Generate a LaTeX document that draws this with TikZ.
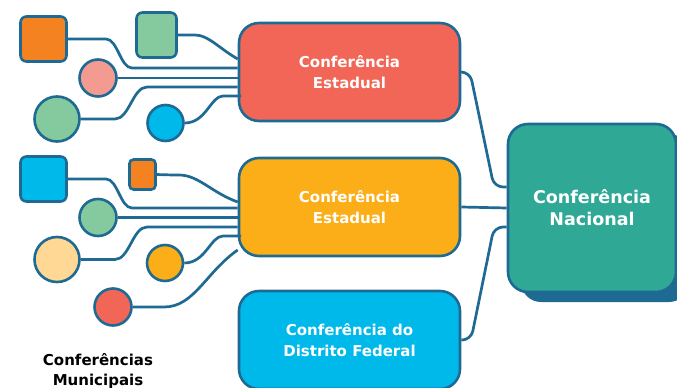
\documentclass[tikz,border=0pt]{standalone}
\usepackage{fontspec}
\setmainfont{DejaVu Sans}
\usetikzlibrary{positioning,calc,shadows}
\definecolor{lineblue}{HTML}{1F6A93}
\definecolor{confred}{HTML}{F26657}
\definecolor{confyellow}{HTML}{FBAE17}
\definecolor{confblue}{HTML}{00B9EB}
\definecolor{confgreen}{HTML}{2FA895}
\definecolor{muniorange}{HTML}{F48220}
\definecolor{munigreen}{HTML}{85C99E}
\definecolor{munipink}{HTML}{F39A91}
\definecolor{muniyellow}{HTML}{FED894}

\begin{document}
\begin{tikzpicture}[
    x=1pt, y=-1pt,
    every node/.style={
        draw=lineblue, line width=2.6pt,
        align=center, text=white
    },
    conf/.style={
        rounded corners=20pt,
        minimum width=221pt, minimum height=98pt,
        font=\bfseries\fontsize{15}{20.5}\selectfont
    },
    muni/.style={circle, inner sep=0pt, minimum size=#1},
    tile/.style={rounded corners=6pt, inner sep=0pt},
    link/.style={draw=lineblue, line width=2.7pt, rounded corners=9pt}
]
\useasboundingbox (0,0) rectangle (677,388);

\node[conf, fill=confred] (est1) at (349.5,72) {Conferência\\Estadual};
\node[conf, fill=confyellow] (est2) at (349.5,207) {Conferência\\Estadual};
\node[conf, fill=confblue] (dist) at (349.5,340) {Conferência do\\Distrito Federal};
\node[rounded corners=20pt, fill=confgreen,
    minimum width=168pt, minimum height=168pt,
    font=\bfseries\fontsize{17.5}{22}\selectfont,
    drop shadow={shadow xshift=13pt, shadow yshift=-10pt, opacity=1, fill=lineblue, draw=none}]
    (nac) at (592,208) {Conferência\\Nacional};

\node[tile, fill=muniorange, minimum width=46pt, minimum height=45pt] (m1) at (43.5,39) {};
\node[tile, fill=munigreen, minimum width=40pt, minimum height=45pt] (m2) at (156.5,35) {};
\node[muni=37pt, fill=munipink] (m3) at (98,78) {};
\node[muni=45pt, fill=munigreen] (m4) at (57,119) {};
\node[muni=36pt, fill=confblue] (m5) at (165.5,123) {};

\node[tile, fill=confblue, minimum width=46pt, minimum height=45pt] (m6) at (43.5,179) {};
\node[tile, rounded corners=4pt, fill=muniorange, minimum width=26pt, minimum height=30pt] (m7) at (142.5,174.5) {};
\node[muni=37pt, fill=munigreen] (m8) at (98,217.5) {};
\node[muni=45pt, fill=muniyellow] (m9) at (57,259.5) {};
\node[muni=36pt, fill=confyellow] (m10) at (165,263) {};
\node[muni=37pt, fill=confred] (m11) at (113,307) {};

\node[draw=none, text=black, font=\bfseries\fontsize{15}{19.5}\selectfont] (lbl) at (98,371) {Conferências\\Municipais};

\draw[link] (m1.east) -- (97,39) to[out=0,in=180] (141,68) -- ($(est1.west)+(0,-4)$);
\draw[link] (m2.east) -- (186,35) to[out=0,in=150] ($(est1.west)+(0,-13)$);
\draw[link] (m3.east) -- ($(est1.west)+(0,6)$);
\draw[link] (m4.east) -- (106,119) to[out=0,in=180] (156,87) -- ($(est1.west)+(0,15)$);
\draw[link] (m5.east) to[out=0,in=180] (232,96) -- ($(est1.west)+(0,24)$);

\draw[link] (m6.east) -- (97,179) to[out=0,in=180] (141,208) -- ($(est2.west)+(0,1)$);
\draw[link] (m7.east) -- (170,175) to[out=0,in=160] ($(est2.west)+(0,-5)$);
\draw[link] (m8.east) -- ($(est2.west)+(0,10.5)$);
\draw[link] (m9.east) -- (106,259.5) to[out=0,in=180] (156,227) -- ($(est2.west)+(0,20)$);
\draw[link] (m10.east) to[out=0,in=180] (232,236) -- ($(est2.west)+(0,29)$);
\draw[link] (m11.east) -- (155,307) to[out=0,in=215] ($(est2.west)+(0,43)$);

\draw[link] (est1.east) -- (470,72) -- (494,187) -- ($(nac.west)+(0,-21)$);
\draw[link] (est2.east) -- (nac.west);
\draw[link] (dist.east) -- (471,340) -- (494,227) -- ($(nac.west)+(0,19)$);
\end{tikzpicture}
\end{document}
